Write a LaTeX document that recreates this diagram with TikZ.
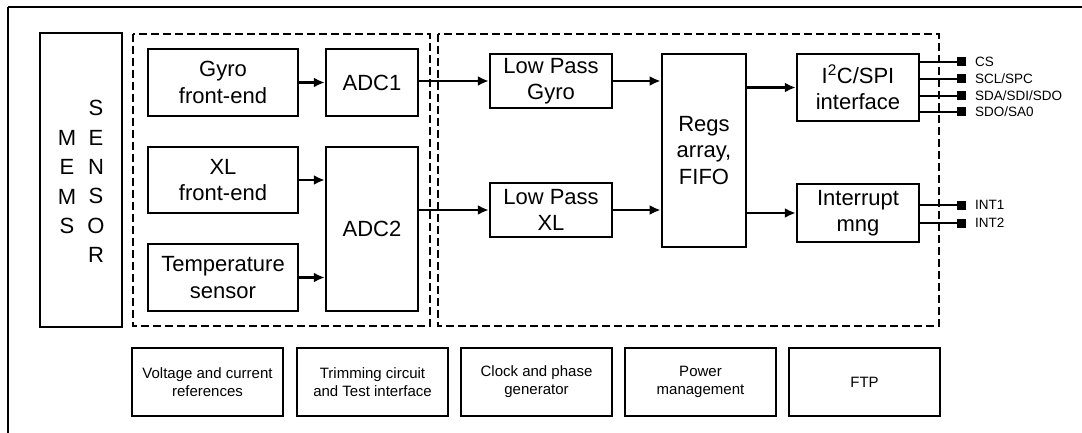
\documentclass[tikz,border=0pt]{standalone}
\usepackage{fontspec}
\setmainfont{Liberation Sans}
\usetikzlibrary{arrows.meta}
\begin{document}
\begin{tikzpicture}[x=1pt,y=-1pt,
  blk/.style={draw, line width=2.5pt, inner sep=0pt, align=center, font=\fontsize{22}{26.5}\selectfont},
  sub/.style={draw, line width=2.2pt, inner sep=0pt, align=center, font=\fontsize{15}{18}\selectfont, minimum width=151pt, minimum height=68pt},
  grp/.style={draw, line width=2.2pt, dash pattern=on 8pt off 4pt},
  sig/.style={line width=2.2pt, -{Latex[length=11pt,width=10pt]}},
  wire/.style={line width=2.2pt},
  pinsq/.style={fill, inner sep=0pt, minimum size=9pt},
  pinlbl/.style={anchor=west, inner sep=0pt, font=\fontsize{13.5}{16}\selectfont},
  letters/.style={inner sep=0pt, align=center, font=\fontsize{22}{29.4}\selectfont}
]
\useasboundingbox (0,0) rectangle (1082,433);
% outer frame
\coordinate (fbl) at (8,433);
\coordinate (ftl) at (8,7);
\coordinate (ftr) at (1082,7);
\draw[line width=1.4pt] (fbl) -- (ftl);
\draw[line width=2.2pt] (ftl) -- (ftr);

% MEMS sensor
\node[blk, minimum width=82pt, minimum height=294pt] (mems) at (81,180) {};
\node[letters] (memsA) at (67,182) {M\\E\\M\\S};
\node[letters] (memsB) at (96,181.5) {S\\E\\N\\S\\O\\R};

% group boxes
\draw[grp] (133,34) rectangle (430,326);
\draw[grp] (438,34) rectangle (939,326);

% analog part
\node[blk, minimum width=150pt, minimum height=67pt] (gyro) at (223,82.5) {Gyro\\front-end};
\node[blk, minimum width=92pt, minimum height=67pt] (adc1) at (372,82.5) {ADC1};
\node[blk, minimum width=150pt, minimum height=66pt] (xl) at (223,180) {XL\\front-end};
\node[blk, minimum width=150pt, minimum height=67pt] (temp) at (223,277.5) {Temperature\\sensor};
\node[blk, minimum width=92pt, minimum height=164pt] (adc2) at (372,229) {ADC2};

% digital part
\node[blk, minimum width=122pt, minimum height=54pt] (lpg) at (551,81) {Low Pass\\Gyro};
\node[blk, minimum width=122pt, minimum height=54pt] (lpxl) at (551,210) {Low Pass\\XL};
\node[blk, line width=2.8pt, minimum width=84pt, minimum height=193pt] (regs) at (704,150.5) {Regs\\array,\\FIFO};
\node[blk, minimum width=122pt, minimum height=67pt] (i2c) at (858,87.5) {I\textsuperscript{2}C/SPI\\interface};
\node[blk, minimum width=122pt, minimum height=58pt] (intm) at (858,213) {Interrupt\\mng};

% arrows
\draw[sig] (gyro.east) -- (adc1.west);
\draw[sig] (xl.east) -- (xl.east -| adc2.west);
\draw[sig] (temp.east) -- (temp.east -| adc2.west);
\draw[sig] (adc1.east |- lpg.west) -- (lpg.west);
\draw[sig] (adc2.east |- lpxl.west) -- (lpxl.west);
\draw[sig] (lpg.east) -- (lpg.east -| regs.west);
\draw[sig] (lpxl.east) -- (lpxl.east -| regs.west);
\draw[sig] (regs.east |- i2c.west) -- (i2c.west);
\draw[sig] (regs.east |- intm.west) -- (intm.west);

% pins
\foreach \n/\y/\t in {cs/62/{CS}, scl/79/{SCL/SPC}, sda/96/{SDA/SDI/SDO}, sdo/112/{SDO/SA0}}{
  \node[pinsq] (p\n) at (961,\y) {};
  \draw[wire] (i2c.east |- p\n) -- (p\n.center);
  \node[pinlbl] (l\n) at (975,\y) {\t};
}
\foreach \n/\y/\t in {int1/205/INT1, int2/223/INT2}{
  \node[pinsq] (p\n) at (961,\y) {};
  \draw[wire] (intm.east |- p\n) -- (p\n.center);
  \node[pinlbl] (l\n) at (975,\y) {\t};
}

% bottom blocks
\node[sub] (vref) at (207.5,382) {Voltage and current\\references};
\node[sub] (trim) at (372.5,382) {Trimming circuit\\and Test interface};
\node[sub] (clk) at (536.5,382) {Clock and phase\\generator};
\node[sub] (pwr) at (700.5,382) {Power\\management};
\node[sub] (ftp) at (864.5,382) {FTP};
\end{tikzpicture}
\end{document}
